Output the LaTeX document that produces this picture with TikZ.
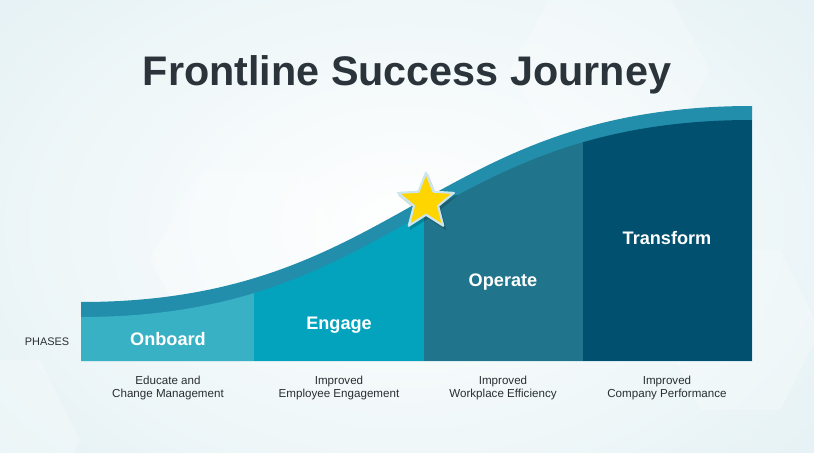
\documentclass[tikz,border=0pt]{standalone}
\usepackage{fontspec}
\setmainfont{Liberation Sans}
\usetikzlibrary{shapes.geometric}

\definecolor{journeybg}{HTML}{E4F1F4}
\definecolor{journeytitle}{HTML}{2B333B}
\definecolor{journeytext}{HTML}{2A2E33}
\definecolor{curveband}{HTML}{228EAB}
\definecolor{phaseonboard}{HTML}{38B1C4}
\definecolor{phaseengage}{HTML}{03A3BD}
\definecolor{phaseoperate}{HTML}{20758C}
\definecolor{phasetransform}{HTML}{01506F}
\definecolor{staryellow}{HTML}{FFD500}
\definecolor{staredge}{HTML}{CDE6EE}

\begin{document}
\begin{tikzpicture}[
  x=0.75pt,
  y=-0.75pt,
  line join=round,
  phasename/.style={text=white,font=\fontsize{13.6}{16}\selectfont\bfseries,anchor=base},
  phasedesc/.style={text=journeytext,font=\fontsize{8.7}{9.8}\selectfont,align=center,anchor=north},
  hexface/.style={fill=white,fill opacity=0.25,draw=none}
]
  % Frame of the original artwork.
  \useasboundingbox (0,0) rectangle (814,453);

  % Pale background with a brighter middle and faint hexagons.
  \shade[inner color=white,outer color=journeybg] (-150,-150) rectangle (964,603);
  \fill[hexface] (560,-20) -- (660,-20) -- (710,70) -- (660,160) -- (560,160) -- (510,70) -- cycle;
  \fill[hexface] (200,170) -- (300,170) -- (350,260) -- (300,350) -- (200,350) -- (150,260) -- cycle;
  \fill[hexface] (700,250) -- (780,250) -- (820,330) -- (780,410) -- (700,410) -- (660,330) -- cycle;
  \fill[hexface] (-40,360) -- (40,360) -- (80,440) -- (40,520) -- (-40,520) -- (-80,440) -- cycle;

  % Rising curve band, then the four phase columns below it.
  \fill[curveband] (81,302) .. controls (400,302) and (430,106) .. (752,106)
    -- (752,361) -- (81,361) -- cycle;
  \begin{scope}
    \clip (81,317) .. controls (400,317) and (430,120) .. (752,120)
      -- (752,361) -- (81,361) -- cycle;
    \fill[phaseonboard] (81,90) rectangle (254,361);
    \fill[phaseengage] (254,90) rectangle (424,361);
    \fill[phaseoperate] (424,90) rectangle (583,361);
    \fill[phasetransform] (583,90) rectangle (752,361);
  \end{scope}

  % Milestone star sitting on the curve.
  \node[star,star points=5,star point ratio=2.3,minimum size=47,inner sep=0pt,
    fill=black,fill opacity=0.18] at (428,205) {};
  \node (milestone) [star,star points=5,star point ratio=2.3,minimum size=44,inner sep=0pt,
    fill=staryellow,draw=staredge,line width=1.6] at (426,202) {};

  % Title and row label.
  \node (title) [text=journeytitle,font=\fontsize{31}{34}\selectfont\bfseries,anchor=base]
    at (407,86) {Frontline Success Journey};
  \node (phaseslabel) [text=journeytext,font=\fontsize{8.2}{9}\selectfont,anchor=base]
    at (47,345) {PHASES};

  % Phase names inside the columns.
  \node (onboard) [phasename] at (168,345) {Onboard};
  \node (engage) [phasename] at (339,329) {Engage};
  \node (operate) [phasename] at (503,286) {Operate};
  \node (transform) [phasename] at (667,244) {Transform};

  % Outcome of each phase under the chart.
  \node (onboarddesc) [phasedesc] at (168,371) {Educate and\\Change Management};
  \node (engagedesc) [phasedesc] at (339,371) {Improved\\Employee Engagement};
  \node (operatedesc) [phasedesc] at (503,371) {Improved\\Workplace Efficiency};
  \node (transformdesc) [phasedesc] at (667,371) {Improved\\Company Performance};
\end{tikzpicture}
\end{document}
